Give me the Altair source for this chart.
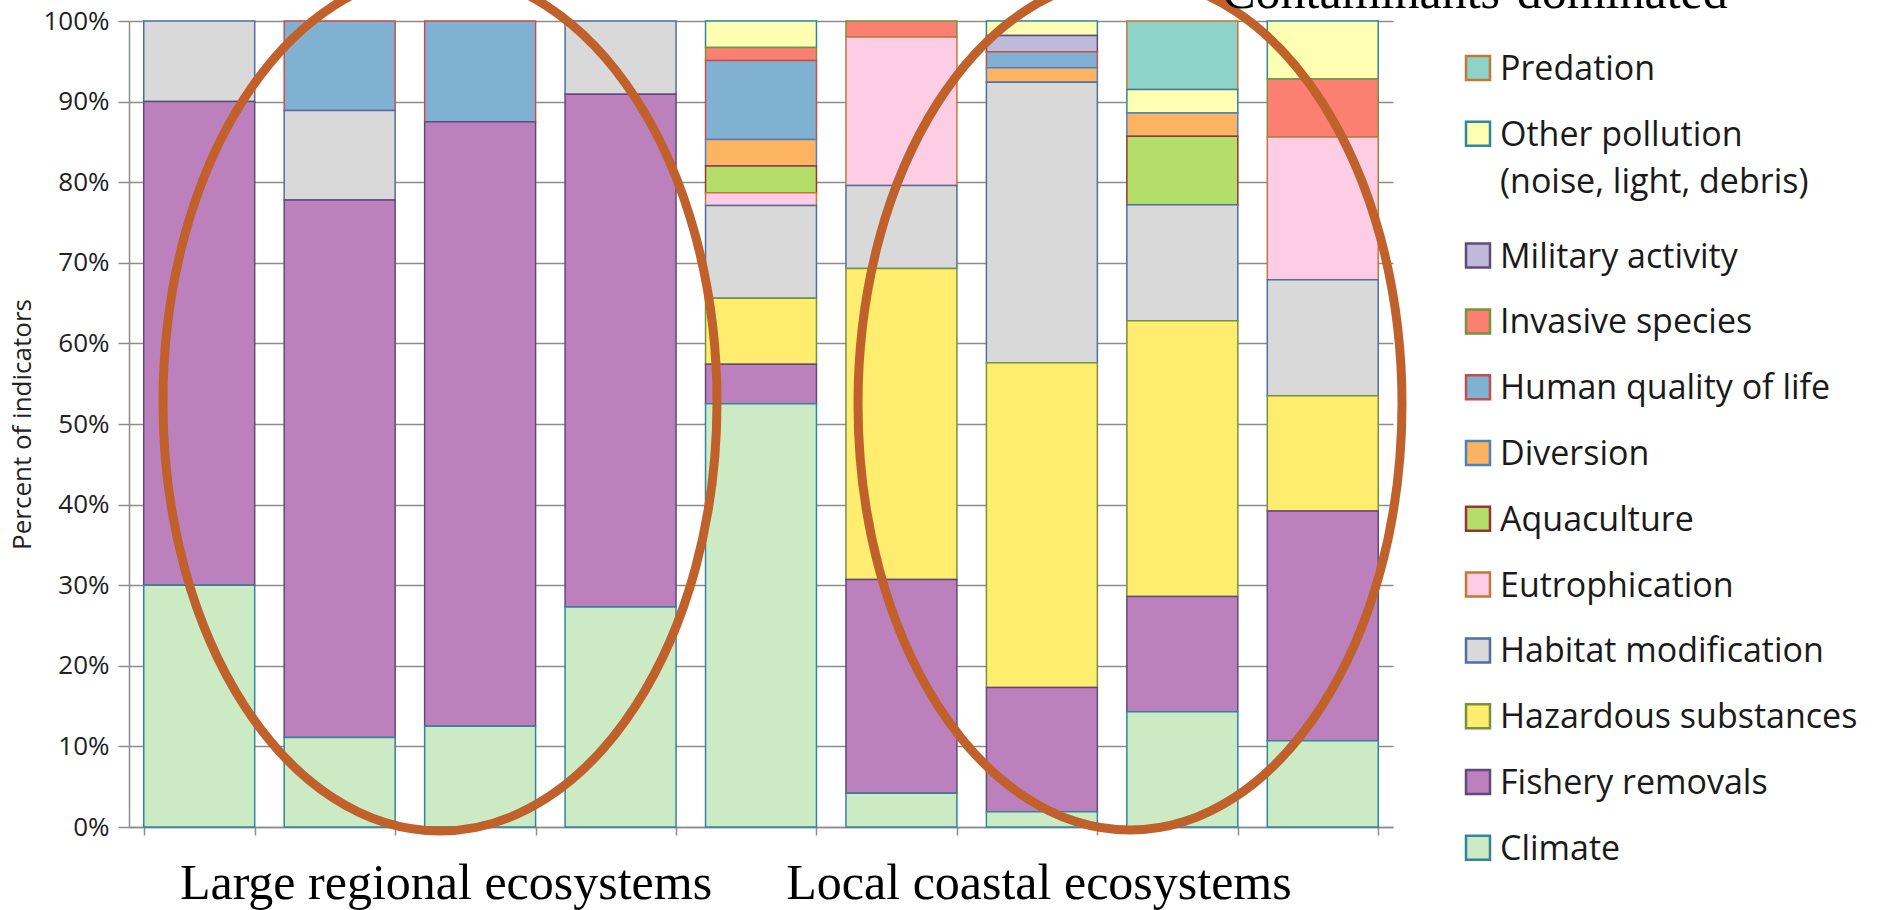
import altair as alt
import pandas as pd

# ---------------- data ----------------
ecosystems = ["E1", "E2", "E3", "E4", "E5", "E6", "E7", "E8", "E9"]

# legend order (top to bottom); stacking goes the other way (Climate at bottom)
causes = [
    "Predation",
    "Other pollution (noise, light, debris)",
    "Military activity",
    "Invasive species",
    "Human quality of life",
    "Diversion",
    "Aquaculture",
    "Eutrophication",
    "Habitat modification",
    "Hazardous substances",
    "Fishery removals",
    "Climate",
]
legend_labels = [
    "Predation",
    "Other pollution\n(noise, light, debris)",
    "Military activity",
    "Invasive species",
    "Human quality of life",
    "Diversion",
    "Aquaculture",
    "Eutrophication",
    "Habitat modification",
    "Hazardous substances",
    "Fishery removals",
    "Climate",
]

# percent of indicators per ecosystem (9 bars)
climate       = [30.0, 11.1, 12.5, 27.3, 52.5, 4.2, 1.9, 14.3, 10.7]
fishery       = [60.0, 66.7, 75.0, 63.6, 4.9, 26.5, 15.4, 14.3, 28.5]
hazardous     = [0, 0, 0, 0, 8.2, 38.6, 40.3, 34.2, 14.3]
habitat       = [10.0, 11.1, 0, 9.1, 11.5, 10.3, 34.8, 14.4, 14.4]
eutrophication = [0, 0, 0, 0, 1.6, 18.4, 0, 0, 17.7]
aquaculture   = [0, 0, 0, 0, 3.3, 0, 0, 8.5, 0]
diversion     = [0, 0, 0, 0, 3.3, 0, 1.8, 2.9, 0]
human_qol     = [0, 11.1, 12.5, 0, 9.8, 0, 2.0, 0, 0]
invasive      = [0, 0, 0, 0, 1.6, 2.0, 0, 0, 7.2]
military      = [0, 0, 0, 0, 0, 0, 2.0, 0, 0]
other_poll    = [0, 0, 0, 0, 3.3, 0, 1.8, 2.9, 7.2]
predation     = [0, 0, 0, 0, 0, 0, 0, 8.5, 0]

series = [predation, other_poll, military, invasive, human_qol, diversion,
          aquaculture, eutrophication, habitat, hazardous, fishery, climate]

y_ticks = list(range(0, 101, 10))

# ---------------- styles ----------------
fill_colors = ["#8DD3C7", "#FFFFB3", "#BEBADA", "#FB8072", "#80B1D3", "#FDB462",
               "#B3DE69", "#FCCDE5", "#D9D9D9", "#FFED6F", "#BC80BD", "#CCEBC5"]
stroke_colors = ["#C0783C", "#31859C", "#604A7B", "#77933C", "#C0504D", "#4F81BD",
                 "#953735", "#C0783C", "#4F6FA0", "#76923C", "#604A7B", "#31859C"]
ellipse_color = "#C0612B"
grey = "#8c8c8c"

W, H = 1264, 806
PAD = {"left": 129, "top": 21, "right": 1879 - 129 - W, "bottom": 910 - 21 - H}

rows = []
n = len(causes)
for ci, (cause, vals) in enumerate(zip(causes, series)):
    for eco, v in zip(ecosystems, vals):
        if v > 0:
            rows.append({"ecosystem": eco, "cause": cause, "value": v, "stack": n - 1 - ci})
df = pd.DataFrame(rows)

color_scale = alt.Scale(domain=causes, range=fill_colors)
stroke_scale = alt.Scale(domain=causes, range=stroke_colors)

bars = alt.Chart(df).mark_bar(strokeWidth=1.5).encode(
    x=alt.X("ecosystem:N", sort=ecosystems,
            scale=alt.Scale(paddingInner=0.21, paddingOuter=0.105),
            axis=alt.Axis(labels=False, title=None, tickBand="extent", ticks=True,
                          tickSize=8, tickColor=grey, domainColor=grey,
                          domainWidth=1.5, tickWidth=1.5, grid=False)),
    y=alt.Y("value:Q", stack="zero",
            scale=alt.Scale(domain=[0, 100], nice=False),
            axis=alt.Axis(values=y_ticks, labelExpr="datum.value + '%'",
                          labelFont="Open Sans", labelFontSize=26, labelColor="#222222",
                          labelPadding=9, tickSize=11, tickColor=grey, tickWidth=1.5,
                          domainColor=grey, domainWidth=1.5,
                          grid=True, gridColor=grey, gridWidth=1.5,
                          title="Percent of indicators", titleFont="Open Sans",
                          titleFontSize=26, titleFontWeight="normal", titleColor="#222222",
                          titleAngle=270, titleX=-107, titleY=403,
                          titleAlign="center", titleBaseline="middle")),
    color=alt.Color("cause:N", scale=color_scale, legend=None),
    stroke=alt.Stroke("cause:N", scale=stroke_scale, legend=None),
    order=alt.Order("stack:Q", sort="ascending"),
)

# ---------------- manual legend ----------------
LEG_TOP, LEG_STEP, LEG_EXTRA = 47, 65.8, 56
leg_y = [LEG_TOP + LEG_STEP * i + (LEG_EXTRA if i >= 2 else 0) for i in range(n)]
leg_df = pd.DataFrame({"cause": causes, "label": legend_labels, "ly": leg_y})
ly_enc = alt.Y("ly:Q", scale=alt.Scale(domain=[0, H], range=[0, H]), axis=None)

leg_sq = alt.Chart(leg_df).mark_square(size=576, strokeWidth=2.5, opacity=1).encode(
    x=alt.value(1349), y=ly_enc,
    color=alt.Color("cause:N", scale=color_scale, legend=None),
    stroke=alt.Stroke("cause:N", scale=stroke_scale, legend=None),
)
leg_tx = alt.Chart(leg_df).mark_text(
    align="left", baseline="alphabetic", dy=12, font="Open Sans", fontSize=34,
    lineBreak="\n", lineHeight=47, color="#1a1a1a"
).encode(x=alt.value(1371), y=ly_enc, text="label:N")

# ---------------- ellipses ----------------
def ellipse_path(k):
    c = 0.5523
    return (f"M {k:.4f},0 C {k:.4f},{c} {c*k:.4f},1 0,1 "
            f"C {-c*k:.4f},1 {-k:.4f},{c} {-k:.4f},0 "
            f"C {-k:.4f},{-c} {-c*k:.4f},-1 0,-1 "
            f"C {c*k:.4f},-1 {k:.4f},{-c} {k:.4f},0 Z")

one = pd.DataFrame({"e": [0]})
ell1 = alt.Chart(one).mark_point(
    shape=ellipse_path(277 / 429), size=(2 * 429) ** 2, filled=False,
    stroke=ellipse_color, strokeWidth=9, opacity=1
).encode(x=alt.value(311), y=alt.value(381))
ell2 = alt.Chart(one).mark_point(
    shape=ellipse_path(272 / 426), size=(2 * 426) ** 2, filled=False,
    stroke=ellipse_color, strokeWidth=9, opacity=1
).encode(x=alt.value(1001), y=alt.value(383))

# ---------------- text annotations ----------------
def label(txt, x, y):
    return alt.Chart(pd.DataFrame({"t": [txt]})).mark_text(
        font="Liberation Serif", fontSize=50, color="#000000",
        align="center", baseline="alphabetic"
    ).encode(x=alt.value(x), y=alt.value(y), text="t:N")

lab1 = label("Large regional ecosystems", 317, 878)
lab2 = label("Local coastal ecosystems", 910, 878)
lab3 = label("Contaminants-dominated", 1346, -13)

chart = alt.layer(bars, leg_sq, leg_tx, ell1, ell2, lab1, lab2, lab3).resolve_scale(
    y="independent"
).properties(
    width=W, height=H,
    autosize=alt.AutoSizeParams(type="none"),
    padding=PAD,
    background="white",
).configure_view(strokeWidth=0)

chart.save("out.html", embed_options={"renderer": "svg", "actions": False})
